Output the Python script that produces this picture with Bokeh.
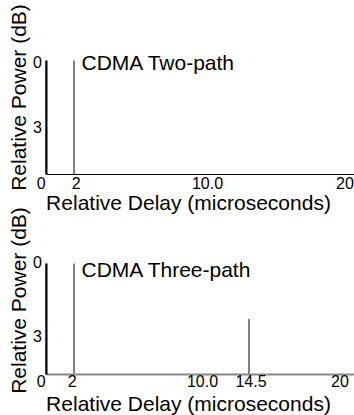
from math import pi
from bokeh.plotting import figure
from bokeh.models import (Range1d, FixedTicker, Label, LabelSet,
                          ColumnDataSource, LinearAxis)
from bokeh.core.properties import value
from bokeh.embed import file_html
from bokeh.resources import INLINE

# ---------------- data ----------------
x_title = "Relative Delay (microseconds)"
y_title = "Relative Power (dB)"
floor_db = -6.0            # bottom of each power axis

two_name = "CDMA Two-path"
two_delay = [0, 2]
two_power = [0, 0]
two_xticks = [0, 2, 10, 20]
two_xlabels = ["0", "2", "10.0", "20"]

three_name = "CDMA Three-path"
three_delay = [0, 2, 14.5]
three_power = [0, 0, -3]
three_xticks = [0, 2, 10, 14.5, 20]
three_xlabels = ["0", "2", "10.0", "14.5", "20"]

yticks = [0, -3]
ylabels = ["0", "3"]

# ---------------- layout / style (pixels) ----------------
W, H = 354, 415
FONT = "Liberation Sans"
TITLE_SIZE = "21px"
TICK_SIZE = "16px"
ORIGIN_X = 45.5        # pixel of delay 0
PX_PER_US = 14.0       # pixels per microsecond
P1_TOP, P1_BOT = 60, 173.5     # pixel rows of 0 dB and floor, panel 1
P2_TOP, P2_BOT = 263, 374      # pixel rows of 0 dB and floor, panel 2
LABEL_FIX = 8          # baseline correction for single labels


def y_range_for(top_px, bot_px):
    k = (bot_px - top_px) / (0 - floor_db)   # px per dB
    return Range1d(-(H - top_px) / k, top_px / k)


x_rng = Range1d(-ORIGIN_X / PX_PER_US, (W - ORIGIN_X) / PX_PER_US)
x_end = x_rng.end

p = figure(width=W, height=H, x_range=x_rng, y_range=y_range_for(P1_TOP, P1_BOT),
           output_backend="svg", toolbar_location=None,
           min_border_left=0, min_border_right=0,
           min_border_top=0, min_border_bottom=0)
p.extra_y_ranges = {"p2": y_range_for(P2_TOP, P2_BOT)}
p.grid.visible = False
p.outline_line_color = None
p.background_fill_color = "white"
p.border_fill_color = "white"


def style_axis(ax, color, width, bounds, loc):
    ax.ticker = FixedTicker(ticks=[])
    ax.major_tick_out = 0
    ax.major_tick_in = 0
    ax.minor_tick_out = 0
    ax.minor_tick_in = 0
    ax.major_label_text_color = None
    ax.axis_label = None
    ax.axis_line_color = color
    ax.axis_line_width = width
    ax.bounds = bounds
    ax.fixed_location = loc


style_axis(p.xaxis[0], "black", 1, (0, x_end), floor_db)
style_axis(p.yaxis[0], "black", 2, (floor_db, 0), 0)
ax2 = LinearAxis(y_range_name="p2")
style_axis(ax2, "#888888", 2, (0, x_end), floor_db)
p.add_layout(ax2, "below")
ay2 = LinearAxis(y_range_name="p2")
style_axis(ay2, "black", 2, (floor_db, 0), 0)
p.add_layout(ay2, "left")


def panel(rname, delays, powers, xticks, xlabels, xtick_dx, xtick_dy, ytick_dy):
    kw = {} if rname is None else {"y_range_name": rname}
    p.segment(x0=delays, y0=[floor_db] * len(delays), x1=delays, y1=powers,
              line_color="black", line_width=1, **kw)
    xs = ColumnDataSource(dict(x=xticks, y=[floor_db] * len(xticks),
                               text=xlabels, dx=xtick_dx))
    p.add_layout(LabelSet(x="x", y="y", text="text", x_offset="dx",
                          y_offset=xtick_dy, source=xs,
                          text_font=value(FONT), text_font_size=TICK_SIZE,
                          text_align="center", text_baseline="alphabetic",
                          text_color="black", background_fill_color=None,
                          border_line_color=None, **kw))
    ys = ColumnDataSource(dict(x=[0] * len(yticks), y=yticks, text=ylabels,
                               dy=ytick_dy))
    p.add_layout(LabelSet(x="x", y="y", text="text", x_offset=-4,
                          y_offset="dy", source=ys,
                          text_font=value(FONT), text_font_size=TICK_SIZE,
                          text_align="right", text_baseline="alphabetic",
                          text_color="black", background_fill_color=None,
                          border_line_color=None, **kw))


panel(None, two_delay, two_power, two_xticks, two_xlabels,
      [-4.7, 2.3, 21.5, 19], -15, [-7.2, -15.7])
panel("p2", three_delay, three_power, three_xticks, three_xlabels,
      [-4.7, -1.7, 16.5, 2, 14], -12.5, [-4.7, -23.2])


def text(s, px, py, angle=0, align="left"):
    p.add_layout(Label(x=px, y=H - py, x_units="screen", y_units="screen",
                       text=s, angle=angle, text_font=FONT,
                       text_font_size=TITLE_SIZE, text_align=align,
                       text_baseline="alphabetic", text_color="black",
                       background_fill_color=None, border_line_color=None))


# series names (left edge, baseline)
text(two_name, 81, 70 - LABEL_FIX)
text(three_name, 81, 277 - LABEL_FIX)
# axis titles
text(y_title, 27 - LABEL_FIX - 1, 97, angle=pi / 2, align="center")
text(y_title, 27 - LABEL_FIX - 1, 300, angle=pi / 2, align="center")
text(x_title, 188, 210 - LABEL_FIX, align="center")
text(x_title, 188, 411 - LABEL_FIX, align="center")

open("out.html", "w").write(file_html(p, INLINE))
